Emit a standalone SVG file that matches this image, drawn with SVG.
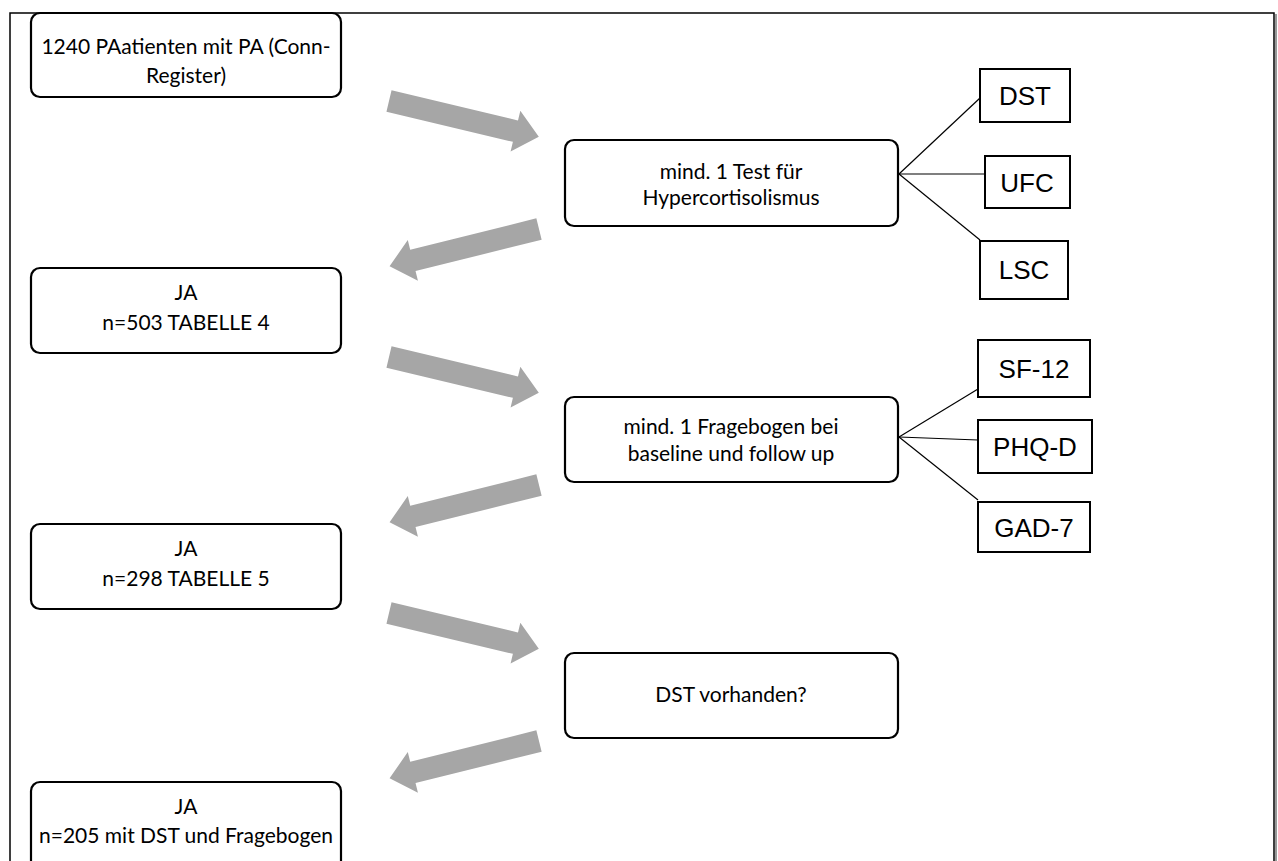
<svg xmlns="http://www.w3.org/2000/svg" width="1278" height="861" viewBox="0 0 1278 861">
<style>
.frame{fill:none;stroke:#000;stroke-width:1.5}
.node{fill:#fff;stroke:#000;stroke-width:2.2}
.box{fill:#fff;stroke:#000;stroke-width:2}
.t{font-family:Lato,"Open Sans",sans-serif;font-size:21px;fill:#000;text-anchor:middle}
.a{font-family:"Liberation Sans",Arial,sans-serif;font-size:26px;fill:#000;text-anchor:middle}
.arrow{fill:#A6A6A6}
.ln{stroke:#000;stroke-width:1.2;fill:none}
</style>
<defs>
<polygon id="arr" points="0,-11 130,-11 130,-21 154,0 130,21 130,11 0,11"/>
</defs>
<rect width="1278" height="861" fill="#fff"/>
<g id="frame">
<polyline class="frame" points="10,861 10,13 1274,13 1274,861"/>
<line x1="1276" y1="14" x2="1276" y2="861" stroke="#777" stroke-width="1.5"/>
</g>
<g id="connectors">
<use href="#arr" class="arrow" transform="translate(389,101) rotate(13.4)"/>
<use href="#arr" class="arrow" transform="translate(539,229) rotate(166)"/>
<use href="#arr" class="arrow" transform="translate(389,357) rotate(13.4)"/>
<use href="#arr" class="arrow" transform="translate(539,485) rotate(166)"/>
<use href="#arr" class="arrow" transform="translate(389,613) rotate(13.4)"/>
<use href="#arr" class="arrow" transform="translate(539,741) rotate(166)"/>
<line class="ln" x1="899" y1="174" x2="980" y2="98"/>
<line class="ln" x1="899" y1="174" x2="985" y2="174"/>
<line class="ln" x1="899" y1="174" x2="980" y2="240"/>
<line class="ln" x1="899" y1="437" x2="978" y2="389"/>
<line class="ln" x1="899" y1="437" x2="978" y2="440"/>
<line class="ln" x1="899" y1="437" x2="978" y2="500"/>
</g>
<g id="n1">
<rect class="node" x="31" y="13" width="310" height="84" rx="9"/>
<text class="t" x="186" y="54">1240 PAatienten mit PA (Conn-</text>
<text class="t" x="186" y="83">Register)</text>
</g>
<g id="n2">
<rect class="node" x="565" y="140" width="333" height="86" rx="9"/>
<text class="t" x="731" y="179">mind. 1 Test für</text>
<text class="t" x="731" y="205">Hypercortisolismus</text>
</g>
<g id="dst"><rect class="box" x="980" y="69" width="90" height="53"/><text class="a" x="1025" y="105">DST</text></g>
<g id="ufc"><rect class="box" x="985" y="156" width="85" height="52"/><text class="a" x="1027" y="192">UFC</text></g>
<g id="lsc"><rect class="box" x="980" y="241" width="88" height="58"/><text class="a" x="1024" y="279">LSC</text></g>
<g id="n3">
<rect class="node" x="31" y="268" width="310" height="85" rx="9"/>
<text class="t" x="186" y="300">JA</text>
<text class="t" x="186" y="330">n=503 TABELLE 4</text>
</g>
<g id="n4">
<rect class="node" x="565" y="397" width="333" height="85" rx="9"/>
<text class="t" x="731" y="434">mind. 1 Fragebogen bei</text>
<text class="t" x="731" y="461">baseline und follow up</text>
</g>
<g id="sf12"><rect class="box" x="978" y="340" width="112" height="57"/><text class="a" x="1034" y="378">SF-12</text></g>
<g id="phq"><rect class="box" x="978" y="420" width="114" height="53"/><text class="a" x="1035" y="456">PHQ-D</text></g>
<g id="gad"><rect class="box" x="978" y="502" width="112" height="50"/><text class="a" x="1034" y="537">GAD-7</text></g>
<g id="n5">
<rect class="node" x="31" y="524" width="310" height="85" rx="9"/>
<text class="t" x="186" y="556">JA</text>
<text class="t" x="186" y="586">n=298 TABELLE 5</text>
</g>
<g id="n6">
<rect class="node" x="565" y="653" width="333" height="85" rx="9"/>
<text class="t" x="731" y="702">DST vorhanden?</text>
</g>
<g id="n7">
<rect class="node" x="31" y="782" width="310" height="90" rx="9"/>
<text class="t" x="186" y="814">JA</text>
<text class="t" x="186" y="843">n=205 mit DST und Fragebogen</text>
</g>
</svg>
